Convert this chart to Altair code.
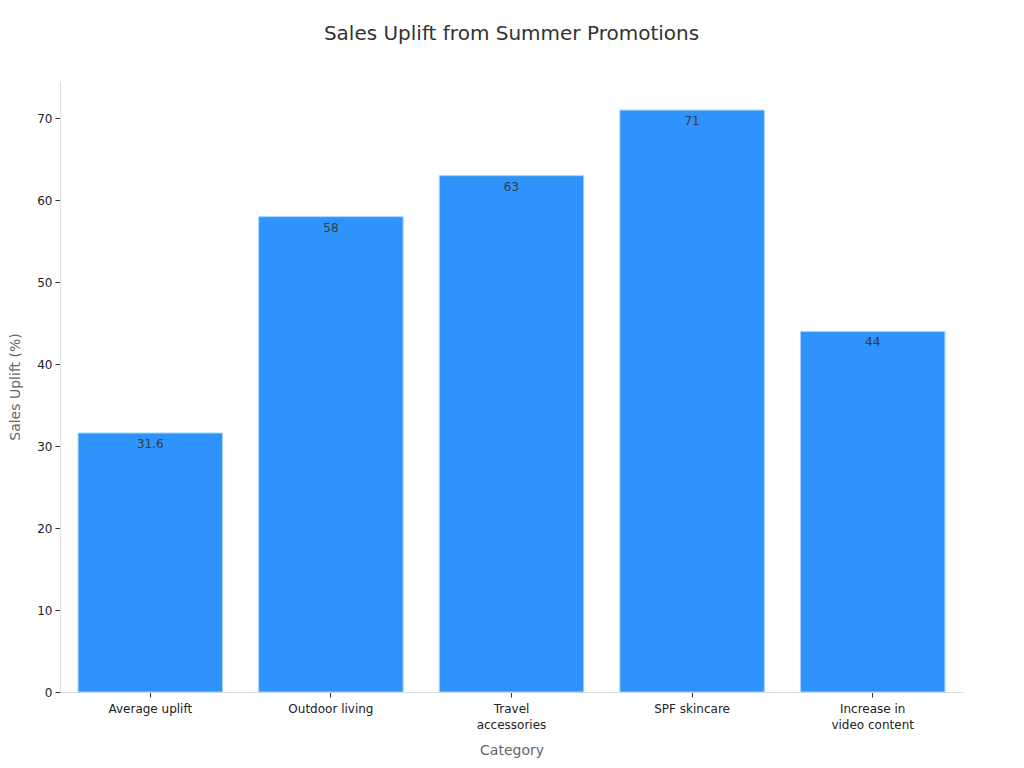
import altair as alt
import pandas as pd

categories = ["Average uplift", "Outdoor living", "Travel\naccessories", "SPF skincare", "Increase in\nvideo content"]
values = [31.6, 58, 63, 71, 44]
value_labels = ["31.6", "58", "63", "71", "44"]

df = pd.DataFrame({"category": categories, "value": values, "label": value_labels})

x = alt.X("category:N", sort=categories, title="Category",
          scale=alt.Scale(paddingInner=0.2, paddingOuter=0.1),
          axis=alt.Axis(labelAngle=0, labelExpr="split(datum.label, '\\n')",
                        labelFontSize=12, labelColor="#222", labelPadding=6,
                        titleFontSize=14, titleColor="#666", titleFontWeight="normal",
                        titlePadding=13, tickColor="#333", tickSize=5,
                        domainColor="#dddddd", labelLineHeight=16))
y = alt.Y("value:Q", title="Sales Uplift (%)",
          scale=alt.Scale(domain=[0, 74.55], nice=False),
          axis=alt.Axis(values=[0, 10, 20, 30, 40, 50, 60, 70], grid=False,
                        labelFontSize=12, labelColor="#222", labelPadding=3,
                        titleFontSize=14, titleColor="#666", titleFontWeight="normal",
                        titlePadding=14, tickColor="#333", tickSize=5,
                        domainColor="#dddddd"))

bars = alt.Chart(df).mark_bar(color="#2E93FA", stroke="#A9D3FF", strokeWidth=1).encode(x=x, y=y)
text = alt.Chart(df).mark_text(baseline="top", dy=6, fontSize=12, color="#3a3a3a").encode(
    x=alt.X("category:N", sort=categories), y="value:Q", text="label:N")

chart = (bars + text).properties(
    width=903, height=611,
    title=alt.TitleParams("Sales Uplift from Summer Promotions", fontSize=20,
                          fontWeight="normal", color="#333", offset=37, anchor="middle"),
    autosize=alt.AutoSizeParams(type="none"),
    padding={"left": 52, "top": 73, "right": 53, "bottom": 68},
).configure(font="DejaVu Sans").configure_view(stroke="transparent", strokeWidth=0)

chart.save("out.html", embed_options={"renderer": "svg", "actions": False})
